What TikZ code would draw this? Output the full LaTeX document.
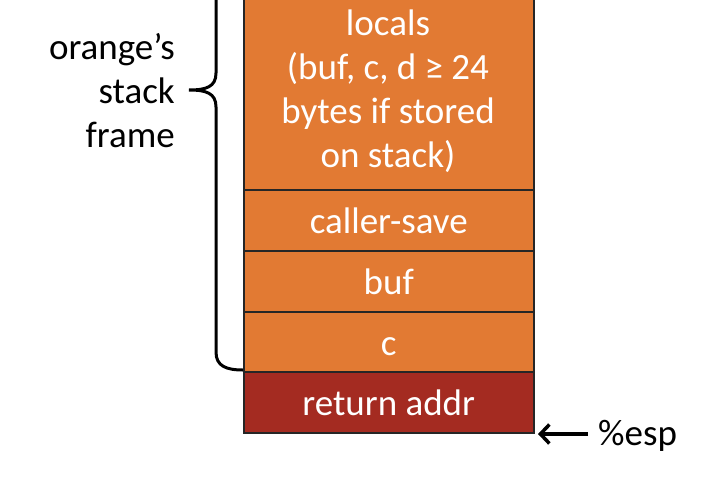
\documentclass[tikz,border=0pt]{standalone}
\usepackage{fontspec}
\setmainfont{Carlito}
\usetikzlibrary{arrows.meta}
\definecolor{cellorange}{HTML}{E27A33}
\definecolor{celldark}{HTML}{A42B21}
\tikzset{
  cell/.style={draw=black!85, line width=1.5pt, minimum width=290pt, anchor=north west, inner sep=0pt, text=white, font=\fontsize{37}{44}\selectfont, text height=30pt, text depth=3pt},
  lbl/.style={font=\fontsize{37}{44}\selectfont, align=right, inner sep=0pt},
}
\begin{document}
\begin{tikzpicture}[x=1pt,y=-1pt]
\useasboundingbox (0,0) rectangle (701,479);
\begin{scope}
\clip (0,0) rectangle (701,479);
\node[cell, fill=cellorange, minimum height=209pt] (locals) at (243,-20) {};
\end{scope}
\node[text=white, font=\fontsize{37}{44}\selectfont, align=center, inner sep=0pt] (localstext) at (388,91) {locals\\(buf, c, d ≥ 24\\bytes if stored\\on stack)};
\node[cell, fill=cellorange, minimum height=61pt] (callersave) at (243,189) {caller-save};
\node[cell, fill=cellorange, minimum height=61pt] (buf) at (243,250) {buf};
\node[cell, fill=cellorange, minimum height=60pt] (c) at (243,311) {c};
\node[cell, fill=celldark, minimum height=61pt] (ret) at (243,371) {return addr};
\node[lbl, anchor=east] (frame) at (175,91) {orange’s\\stack\\frame};
\draw[line width=3pt, black] (216,-4) -- (216,73) .. controls (216,87) and (206,90) .. (189,90) .. controls (206,90) and (216,93) .. (216,107) -- (216,352) .. controls (216,366) and (226,370) .. (243,370);
\node[font=\fontsize{37}{44}\selectfont, anchor=west, inner sep=0pt] (esp) at (598,436) {\%esp};
\coordinate (esptip) at (538,434);
\draw[line width=3.5pt, -{Straight Barb[length=9pt,width=19pt]}] ([xshift=-10pt]esp.west |- esptip) -- (esptip);
\end{tikzpicture}
\end{document}
